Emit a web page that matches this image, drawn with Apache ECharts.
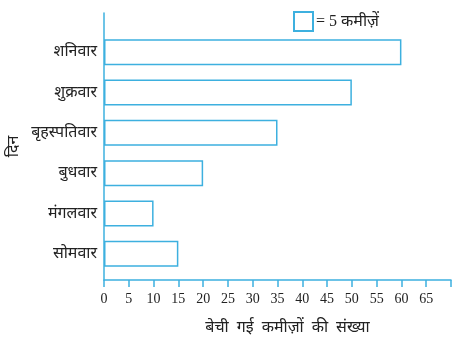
<!DOCTYPE html>
<html><head><meta charset="utf-8">
<script src="https://cdn.jsdelivr.net/npm/echarts@6/dist/echarts.min.js"></script>
<style>html,body{margin:0;padding:0;background:#fff}#c{width:452px;height:342px}</style>
</head><body><div id="c"></div>
<script>
const days = ['सोमवार','मंगलवार','बुधवार','बृहस्पतिवार','शुक्रवार','शनिवार'];
const shirtsSold = [15, 10, 20, 35, 50, 60];
const xTicks = [0,5,10,15,20,25,30,35,40,45,50,55,60,65];
const legendLabel = '= 5 कमीज़ें';
const xTitle = 'बेची  गई  कमीज़ों  की  संख्या';
const yTitle = 'दिन';

const blue = '#3db0df';
const txt = '#222';
const font = '"Liberation Serif", "Noto Sans", serif';
const chart = echarts.init(document.getElementById('c'), null, {renderer:'canvas'});
chart.setOption({
  animation: false,
  backgroundColor: '#fff',
  legend: {
    left: 288, top: 6, itemWidth: 19, itemHeight: 19, itemGap: 4,
    icon: 'rect',
    textStyle: {color: txt, fontSize: 16, fontFamily: font, padding: [0,0,0,-2]},
    data: [legendLabel]
  },
  grid: [
    {left: 104, right: 1, top: 32, bottom: 68, containLabel: false, outerBoundsMode: 'none'},
    {left: 104, right: 1, top: 13, bottom: 62, containLabel: false, outerBoundsMode: 'none'}
  ],
  xAxis: [
    {gridIndex: 0, type: 'value', min: 0, max: 70, show: false},
    {gridIndex: 1, type: 'value', min: 0, max: 70, interval: 5,
     axisLine: {show: true, lineStyle: {color: blue, width: 1.5}},
     axisTick: {show: true, length: 7, lineStyle: {color: blue, width: 1.5}},
     splitLine: {show: false},
     axisLabel: {color: txt, fontSize: 14, fontFamily: font, margin: 12,
       formatter: v => xTicks.includes(v) ? String(v) : ''},
     name: xTitle, nameLocation: 'middle', nameGap: 40,
     nameTextStyle: {color: txt, fontSize: 16, fontFamily: font, padding: [0,0,0,20]}
    }
  ],
  yAxis: [
    {gridIndex: 0, type: 'category', data: days,
     axisLine: {show: false}, axisTick: {show: false},
     axisLabel: {color: txt, fontSize: 16, fontFamily: font, margin: 7}},
    {gridIndex: 1, type: 'value', min: 0, max: 1,
     axisLine: {show: true, lineStyle: {color: blue, width: 1.5}},
     axisTick: {show: false}, axisLabel: {show: false}, splitLine: {show: false},
     name: yTitle, nameLocation: 'middle', nameGap: 82, nameRotate: 90,
     nameTextStyle: {color: txt, fontSize: 16, fontFamily: font}}
  ],
  series: [{
    name: legendLabel, type: 'bar', xAxisIndex: 0, yAxisIndex: 0,
    data: shirtsSold, barWidth: 26,
    itemStyle: {color: '#fff', borderColor: blue, borderWidth: 1.5}
  }]
});
</script></body></html>
